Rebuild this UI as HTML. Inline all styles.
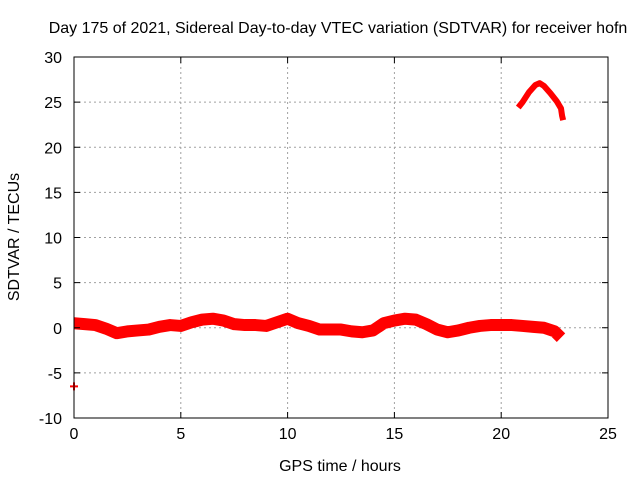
<!DOCTYPE html>
<html><head><meta charset="utf-8"><style>
body{margin:0;background:#fff}
svg text{font-family:"Liberation Sans",sans-serif;font-size:16px;fill:#000}
</style></head><body>
<svg id="chart" width="640" height="480" viewBox="0 0 640 480">
<text x="338" y="33" text-anchor="middle">Day 175 of 2021, Sidereal Day-to-day VTEC variation (SDTVAR) for receiver hofn</text>
<g id="grid"></g><g id="series"></g><g id="axes"></g>
<text x="340" y="471" text-anchor="middle">GPS time / hours</text>
<text x="19" y="237" text-anchor="middle" transform="rotate(-90 19 237)">SDTVAR / TECUs</text>
</svg>
<script>
const xTicks=[0,5,10,15,20,25];
const yTicks=[-10,-5,0,5,10,15,20,25,30];
const mainHours=[0,0.5,1,1.5,2,2.5,3,3.5,4,4.5,5,5.5,6,6.5,7,7.5,8,8.5,9,9.5,10,10.5,11,11.5,12,12.5,13,13.5,14,14.5,15,15.5,16,16.5,17,17.5,18,18.5,19,19.5,20,20.5,21,21.5,22,22.5,22.8];
const mainValues=[0.5,0.4,0.3,-0.1,-0.6,-0.4,-0.3,-0.2,0.1,0.3,0.2,0.6,0.9,1.0,0.8,0.4,0.3,0.3,0.2,0.6,1.0,0.5,0.2,-0.2,-0.2,-0.2,-0.4,-0.5,-0.3,0.5,0.8,1.0,0.9,0.4,-0.2,-0.5,-0.3,0.0,0.2,0.3,0.3,0.3,0.2,0.1,0.0,-0.4,-1.1];
const arcHours=[20.8,21.0,21.3,21.6,21.8,22.0,22.3,22.6,22.8,22.85,22.9];
const arcValues=[24.4,25.0,26.1,26.9,27.1,26.8,26.0,25.1,24.3,23.5,23.0];
const outHours=[0];
const outValues=[-6.5];
const L=74,R=608,T=57,B=418,xmin=0,xmax=25,ymin=-10,ymax=30;
const X=v=>L+(v-xmin)/(xmax-xmin)*(R-L);
const Y=v=>B-(v-ymin)/(ymax-ymin)*(B-T);
const NS='http://www.w3.org/2000/svg';
function mk(t,a,p){const e=document.createElementNS(NS,t);for(const k in a)e.setAttribute(k,a[k]);p.appendChild(e);return e;}
const grid=document.getElementById('grid'),axes=document.getElementById('axes'),ser=document.getElementById('series');
xTicks.forEach(t=>{
 if(t>xmin&&t<xmax){const g=mk('line',{x1:X(t),x2:X(t),y1:T,y2:B,stroke:'#a0a0a0','stroke-dasharray':'2,3'},grid);
 
 }
 mk('line',{x1:X(t),x2:X(t),y1:B,y2:B-6,stroke:'#000'},axes);
 mk('line',{x1:X(t),x2:X(t),y1:T,y2:T+6,stroke:'#000'},axes);
 const tx=mk('text',{x:X(t),y:B+21,'text-anchor':'middle'},axes);tx.textContent=t;
 
 
});
yTicks.forEach(t=>{
 if(t>ymin&&t<ymax){const g=mk('line',{x1:L,x2:R,y1:Y(t),y2:Y(t),stroke:'#a0a0a0','stroke-dasharray':'2,3'},grid);
 
 }
 mk('line',{x1:L,x2:L+6,y1:Y(t),y2:Y(t),stroke:'#000'},axes);
 mk('line',{x1:R,x2:R-6,y1:Y(t),y2:Y(t),stroke:'#000'},axes);
 const tx=mk('text',{x:L-12,y:Y(t)+6,'text-anchor':'end'},axes);tx.textContent=t;
 
 
});
const fr=mk('rect',{x:L,y:T,width:R-L,height:B-T,fill:'none',stroke:'#000'},axes);


function pts(h,v){return h.map((x,i)=>X(x)+','+Y(v[i])).join(' ');}
const m=mk('polyline',{points:pts(mainHours,mainValues),fill:'none',stroke:'#f00','stroke-width':12,'stroke-linejoin':'round','stroke-linecap':'butt'},ser);


const a=mk('polyline',{points:pts(arcHours,arcValues),fill:'none',stroke:'#f00','stroke-width':6,'stroke-linejoin':'round'},ser);


outHours.forEach((h,i)=>{const px=X(h),py=Y(outValues[i]);
 const p=mk('path',{d:`M${px-4},${py}H${px+4}M${px},${py-4}V${py+4}`,stroke:'#f00','stroke-width':2},ser);
 
 });
</script>
</body></html>
